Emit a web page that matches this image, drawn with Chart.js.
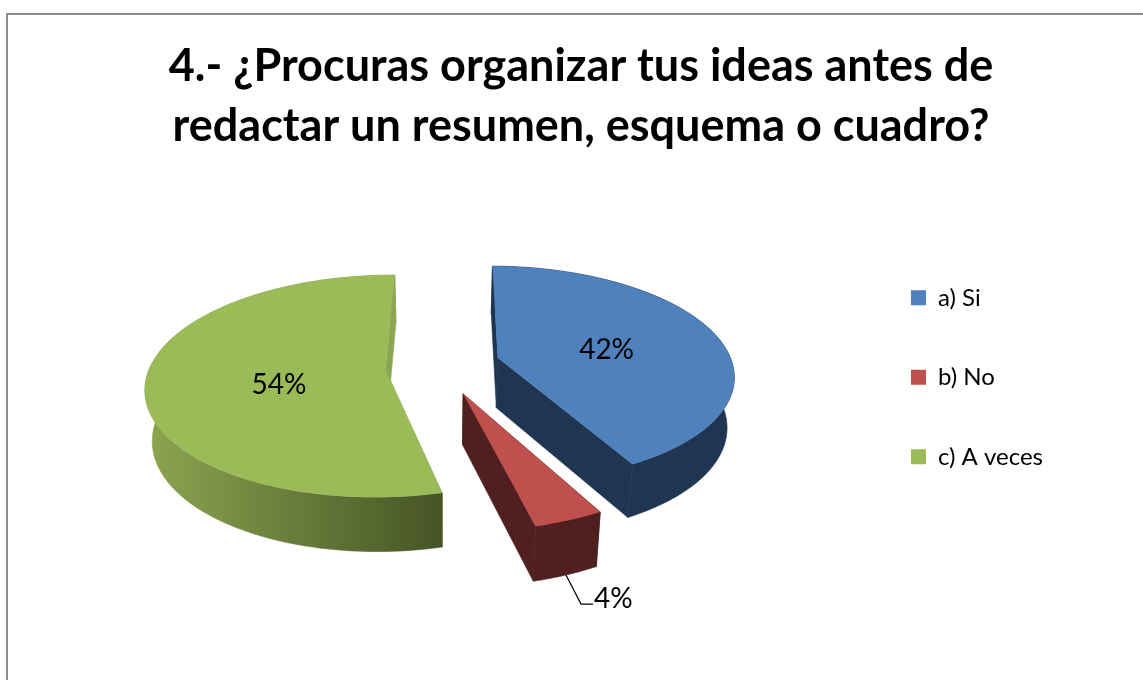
<!DOCTYPE html>
<html>
<head>
<meta charset="utf-8">
<title>4.- ¿Procuras organizar tus ideas?</title>
<script src="https://cdn.jsdelivr.net/npm/chart.js@4"></script>
<style>
  html, body { margin: 0; padding: 0; background: #fff; overflow: hidden; }
  #marco { position: absolute; left: 6px; top: 13px; right: 0; bottom: 0; border-left: 2px solid #8c8c8c; border-top: 2px solid #8c8c8c; }
  #caja { position: absolute; left: 0; top: 0; width: 1143px; height: 680px; }
</style>
</head>
<body>
<div id="marco"></div>
<div id="caja"><canvas id="grafico"></canvas></div>
<script>
// datos
var categorias = ["a) Si", "b) No", "c) A veces"];
var valores = [42, 4, 54];
var titulo = ["4.- ¿Procuras organizar tus ideas antes de", "redactar un resumen, esquema o cuadro?"];

// colores
var colorTapa = ["#4f81bd", "#c0504d", "#9bbb59"];
var colorPared = [["#1f3552", "#1f3552"], ["#4f201f", "#4f201f"], ["#8ba650", "#465425"]];
var fuente = "Lato";

// vista 3D: centro, radio, achatado, perspectiva y grosor
var vista = { cx: 443, cy: 374, r: 238, b: 110, a: 0.15, hondo: 50 };
// desplazamiento de cada porcion (en radios)
var separacion = [[0.235, -0.15], [0.082, 0.175], [-0.243, -0.04]];
// ajuste fino de cada etiqueta, en pixeles
var ajusteEtiqueta = [[1, 4], [-3, 1], [10, 9]];
var centroTitulo = 581;

function proyectar(x, y) {
  var s = 1 / (1 - vista.a * y);
  return { x: vista.cx + vista.r * x * s, y: vista.cy + vista.b * y * s };
}
function abajo(p) {
  return {
    x: vista.cx + (p.x - vista.cx) * 0.975,
    y: p.y + vista.hondo + 0.03 * (p.y - 358)
  };
}
function puntoArco(i, ang, radio) {
  return proyectar(separacion[i][0] + Math.cos(ang) * radio, separacion[i][1] + Math.sin(ang) * radio);
}

function poligono(ctx, pts) {
  ctx.beginPath();
  pts.forEach(function (p, k) {
    if (k == 0) ctx.moveTo(p.x, p.y); else ctx.lineTo(p.x, p.y);
  });
  ctx.closePath();
}

function rellenar(ctx, relleno) {
  ctx.fillStyle = relleno;
  ctx.strokeStyle = relleno;
  ctx.lineWidth = 0.6;
  ctx.fill();
  ctx.stroke();
}

// tira de pared exterior entre dos angulos
function tira(ctx, i, a0, a1, relleno) {
  if (a1 <= a0) return;
  var arriba = [];
  var pasos = 60;
  for (var k = 0; k <= pasos; k++) arriba.push(puntoArco(i, a0 + (a1 - a0) * k / pasos, 1));
  var fondo = arriba.map(abajo).reverse();
  poligono(ctx, arriba.concat(fondo));
  rellenar(ctx, relleno);
}

var pastel3d = {
  id: "pastel3d",
  afterLayout: function (chart) {
    // el titulo va centrado aparte de la leyenda
    var t = chart.titleBlock;
    var d = centroTitulo - (t.left + t.right) / 2;
    t.left += d;
    t.right += d;
  },
  beforeDatasetsDraw: function (chart) {
    var ctx = chart.ctx;
    var arcos = chart.getDatasetMeta(0).data;
    var dosPi = Math.PI * 2;
    ctx.save();
    arcos.forEach(function (arco, i) {
      var ini = arco.startAngle, fin = arco.endAngle;
      var centro = puntoArco(i, 0, 0);
      var bordeIni = puntoArco(i, ini, 1), bordeFin = puntoArco(i, fin, 1);

      var xs = [centro.x];
      for (var k = 0; k <= 60; k++) xs.push(puntoArco(i, ini + (fin - ini) * k / 60, 1).x);
      var grad = ctx.createLinearGradient(Math.min.apply(null, xs), 0, Math.max.apply(null, xs), 0);
      grad.addColorStop(0, colorPared[i][0]);
      grad.addColorStop(1, colorPared[i][1]);

      // parte trasera de la pared (angulos con seno negativo)
      var vueltas = [[Math.PI - dosPi, 0], [Math.PI, dosPi], [Math.PI + dosPi, 2 * dosPi]];
      vueltas.forEach(function (v) {
        tira(ctx, i, Math.max(ini, v[0]), Math.min(fin, v[1]), colorPared[i][0]);
      });

      // caras planas
      [bordeIni, bordeFin].forEach(function (b) {
        poligono(ctx, [centro, b, abajo(b), abajo(centro)]);
        rellenar(ctx, colorPared[i][0]);
      });

      // parte delantera
      var delante = [[-dosPi, Math.PI - dosPi], [0, Math.PI], [dosPi, Math.PI + dosPi]];
      delante.forEach(function (v) {
        tira(ctx, i, Math.max(ini, v[0]), Math.min(fin, v[1]), grad);
      });

      // tapa
      var borde = [centro];
      for (var n = 0; n <= 60; n++) borde.push(puntoArco(i, ini + (fin - ini) * n / 60, 1));
      poligono(ctx, borde);
      ctx.fillStyle = colorTapa[i];
      ctx.fill();
    });

    // porcentajes
    ctx.fillStyle = "#000";
    ctx.font = "28px " + fuente;
    ctx.textBaseline = "middle";
    arcos.forEach(function (arco, i) {
      var medio = (arco.startAngle + arco.endAngle) / 2;
      var texto = valores[i] + "%";
      if (valores[i] >= 10) {
        var p = puntoArco(i, medio, 0.49);
        ctx.textAlign = "center";
        ctx.fillText(texto, p.x + ajusteEtiqueta[i][0], p.y + ajusteEtiqueta[i][1]);
      } else {
        // etiqueta fuera, con linea guia
        var base = abajo(puntoArco(i, medio, 1));
        ctx.beginPath();
        ctx.moveTo(base.x, base.y);
        ctx.lineTo(base.x + 15, base.y + 29);
        ctx.lineTo(base.x + 27, base.y + 29);
        ctx.strokeStyle = "#000";
        ctx.lineWidth = 1.2;
        ctx.stroke();
        ctx.textAlign = "left";
        ctx.fillText(texto, base.x + 31 + ajusteEtiqueta[i][0], base.y + 23 + ajusteEtiqueta[i][1]);
      }
    });
    ctx.restore();
    return false;
  }
};

new Chart("grafico", {
  type: "pie",
  data: {
    labels: categorias,
    datasets: [{ data: valores, backgroundColor: colorTapa, borderWidth: 0 }]
  },
  options: {
    responsive: true,
    maintainAspectRatio: false,
    animation: false,
    rotation: 0.5,
    layout: { padding: { left: 20, right: 90, top: 37, bottom: 92 } },
    plugins: {
      tooltip: { enabled: false },
      title: {
        display: true,
        text: titulo,
        color: "#000",
        font: { family: fuente, size: 45, weight: "bold", lineHeight: 1.33 },
        padding: { top: 0, bottom: 10 }
      },
      legend: {
        position: "right",
        fullSize: false,
        labels: {
          color: "#000",
          font: { family: fuente, size: 24 },
          boxWidth: 15,
          boxHeight: 15,
          padding: 55.5
        }
      }
    }
  },
  plugins: [pastel3d]
});
</script>
</body>
</html>
